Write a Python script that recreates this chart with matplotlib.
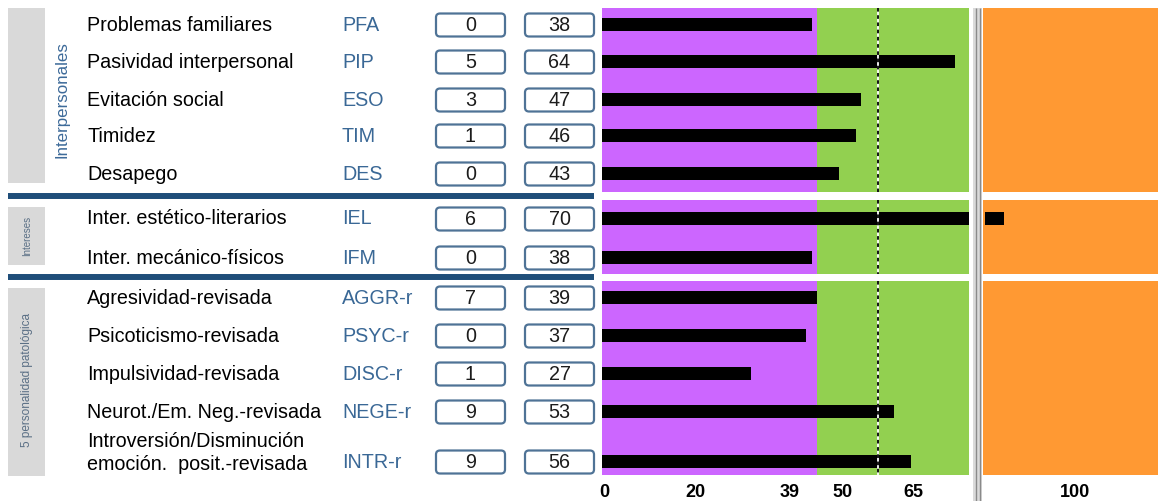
import matplotlib
matplotlib.use('Agg')
import matplotlib.pyplot as plt
from matplotlib.patches import FancyBboxPatch, Rectangle

plt.rcParams['font.family'] = ['Liberation Sans', 'DejaVu Sans']

# scale data
scales = ['Problemas familiares', 'Pasividad interpersonal', 'Evitación social',
          'Timidez', 'Desapego',
          'Inter. estético-literarios', 'Inter. mecánico-físicos',
          'Agresividad-revisada', 'Psicoticismo-revisada', 'Impulsividad-revisada',
          'Neurot./Em. Neg.-revisada', 'Introversión/Disminución\nemoción.  posit.-revisada']
codes = ['PFA', 'PIP', 'ESO', 'TIM', 'DES', 'IEL', 'IFM',
         'AGGR-r', 'PSYC-r', 'DISC-r', 'NEGE-r', 'INTR-r']
raw_scores = [0, 5, 3, 1, 0, 6, 0, 7, 0, 1, 9, 9]
t_scores = [38, 64, 47, 46, 43, 70, 38, 39, 37, 27, 53, 56]
groups = ['Interpersonales', 'Intereses', '5 personalidad patológica']
group_sizes = [5, 2, 5]

low_cut = 39      # end of the purple zone
mean_t = 50       # dotted reference line
split_t = 66.5    # where the main panel stops and the orange panel begins
main_tick_labels = ['0', '20', '39', '50', '65']
extra_tick_labels = ['100']

# layout (pixels)
W, H = 1158, 501
row_y = [25, 62, 100, 136, 174, 219, 258, 298, 336, 374, 412, 462]
group_spans = [(8, 192), (200, 274), (281, 475)]
gray_boxes = [(8, 183), (207, 265), (288, 476)]
group_label_pos = [(62, 100, 12.2, '#3d6a99'), (27, 236, 7, '#5a6f85'), (27, 380, 8.5, '#5a6f85')]
px_per_t = (969 - 602) / split_t
main_tick_pos = [(p - 602) / px_per_t for p in (604, 695, 790, 842, 913)]
ax2_xmin = split_t - 0.35
extra_tick_pos = [ax2_xmin + (1075 - 983) / px_per_t]

purple = '#cc66ff'
green = '#92d050'
orange = '#ff9933'
navy = '#1f4e79'
steel = '#4f7396'


def fig_rect(x0, x1, y0, y1):
    return [x0 / W, 1 - y1 / H, (x1 - x0) / W, (y1 - y0) / H]


fig = plt.figure(figsize=(W / 100, H / 100), dpi=100)

bg = fig.add_axes([0, 0, 1, 1])
bg.set_xlim(0, W)
bg.set_ylim(H, 0)
bg.axis('off')

ax = fig.add_axes(fig_rect(602, 969, 8, 475))
ax2 = fig.add_axes(fig_rect(983, 1158, 8, 475))
ax.set_xlim(0, split_t)
ax2.set_xlim(ax2_xmin, ax2_xmin + (1158 - 983) / px_per_t)
for a in (ax, ax2):
    a.set_ylim(475, 8)
    a.set_yticks([])
    for s in a.spines.values():
        s.set_visible(False)
    a.tick_params(axis='x', length=0, pad=6.5, labelsize=13)

# coloured zones per group
for top, bottom in group_spans:
    c = (top + bottom) / 2
    h = bottom - top
    ax.barh(c, low_cut, left=0, height=h, color=purple)
    ax.barh(c, split_t - low_cut, left=low_cut, height=h, color=green)
    ax2.barh(c, 40, left=ax2_xmin, height=h, color=orange)
    ax.vlines(mean_t, top, bottom, color='white', lw=1.3)
    ax.vlines(mean_t, top, bottom, color='black', lw=1.3, linestyles=(0, (2, 2)))

# score bars
ax.barh(row_y, t_scores, height=13, color='black')
for y, t in zip(row_y, t_scores):
    if t > split_t:
        ax2.barh(y, t - split_t, left=split_t, height=13, color='black')

ax.set_xticks(main_tick_pos, main_tick_labels, fontweight='bold')
ax2.set_xticks(extra_tick_pos, extra_tick_labels, fontweight='bold')

# double separator between panels
bg.add_patch(Rectangle((973, 8), 9, H - 8, color='#dadada', lw=0))
bg.vlines([976, 980], 8, H, color='#8a8a8a', lw=1)

# group boxes and labels
for (top, bottom), name, (lx, ly, fs, col) in zip(gray_boxes, groups, group_label_pos):
    bg.add_patch(Rectangle((8, top), 37, bottom - top, color='#d9d9d9', lw=0))
    bg.text(lx, ly, name, rotation=90, ha='center', va='center', fontsize=fs, color=col)

bg.hlines([195.5, 277], 8, 594, color=navy, lw=4.3)

# scale names, codes and score boxes
for y, name, code, r, t in zip(row_y, scales, codes, raw_scores, t_scores):
    ty = y - 9 if '\n' in name else y
    bg.text(87, ty, name, fontsize=14.2, va='center', color='black', linespacing=1.3)
    bg.text(342, y, code, fontsize=14.2, va='center', color='#3a6896')
    for x0, val in ((436, r), (525, t)):
        bg.add_patch(FancyBboxPatch((x0, y - 11.5), 69, 23,
                                    boxstyle='round,pad=0,rounding_size=4',
                                    fc='white', ec=steel, lw=1.6))
        bg.text(x0 + 34.5, y + 0.5, str(val), fontsize=14.2, ha='center', va='center',
                color='#1c1c1c')

fig.savefig('out.png', dpi=100)
